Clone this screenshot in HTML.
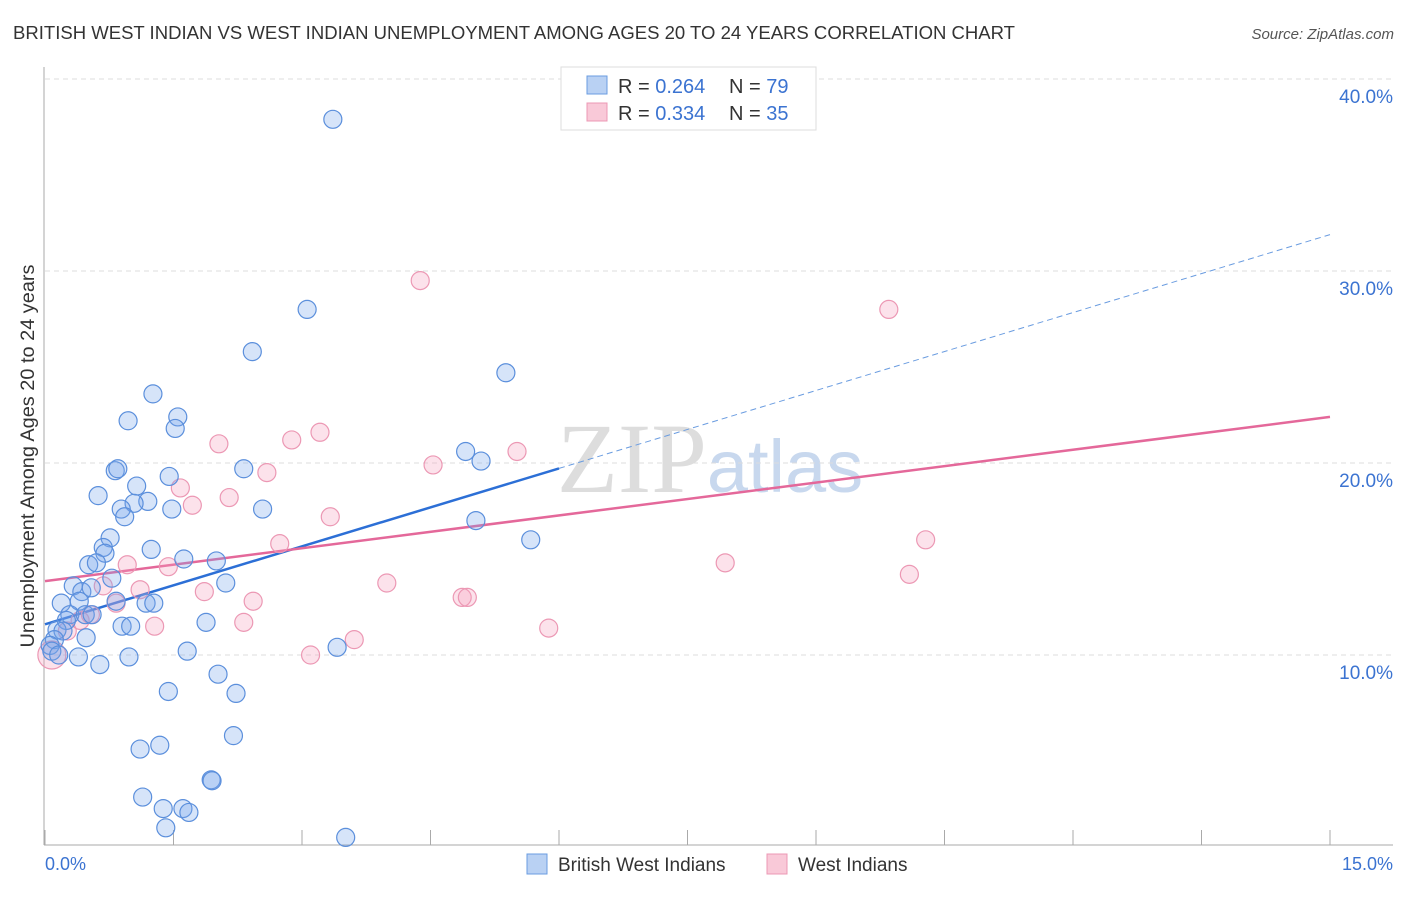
<!DOCTYPE html>
<html><head><meta charset="utf-8"><style>
body{margin:0;background:#fff;font-family:"Liberation Sans",sans-serif}
</style></head><body>
<svg width="1406" height="892" xmlns="http://www.w3.org/2000/svg" font-family="Liberation Sans, sans-serif">
<text x="13" y="39" font-size="18" fill="#333" textLength="1002" lengthAdjust="spacingAndGlyphs">BRITISH WEST INDIAN VS WEST INDIAN UNEMPLOYMENT AMONG AGES 20 TO 24 YEARS CORRELATION CHART</text>
<text x="1394" y="39" font-size="15" fill="#555" font-style="italic" text-anchor="end">Source: ZipAtlas.com</text>
<text x="710" y="492" font-size="100" fill="#ddd" text-anchor="middle" font-family="Liberation Serif, serif">ZIP<tspan fill="#c8d8ee" font-family="Liberation Sans, sans-serif" font-size="74">atlas</tspan></text>
<g id="grid"></g>
<g id="axes"></g>
<g id="trend"></g>
<g id="pts"></g>
<text transform="translate(34,456) rotate(-90)" font-size="19" fill="#333" text-anchor="middle" textLength="383" lengthAdjust="spacingAndGlyphs">Unemployment Among Ages 20 to 24 years</text>
<text x="45" y="870" font-size="18" fill="#3b73d1">0.0%</text>
<text x="1393" y="870" font-size="18" fill="#3b73d1" text-anchor="end">15.0%</text>
<g>
<rect x="561" y="67" width="255" height="63" fill="#fff" stroke="#ddd"/>
<rect x="587" y="76" width="20" height="18" fill="#b9d1f3" stroke="#6a9ce0"/>
<rect x="587" y="103" width="20" height="18" fill="#f9c9d8" stroke="#ec98b4"/>
<text x="618" y="93" font-size="20" fill="#333">R = <tspan fill="#3b73d1">0.264</tspan></text>
<text x="729" y="93" font-size="20" fill="#333">N = <tspan fill="#3b73d1">79</tspan></text>
<text x="618" y="120" font-size="20" fill="#333">R = <tspan fill="#3b73d1">0.334</tspan></text>
<text x="729" y="120" font-size="20" fill="#333">N = <tspan fill="#3b73d1">35</tspan></text>
</g>
<g>
<rect x="527" y="854" width="20" height="20" fill="#b9d1f3" stroke="#6a9ce0"/>
<text x="558" y="871" font-size="19" fill="#333">British West Indians</text>
<rect x="767" y="854" width="20" height="20" fill="#f9c9d8" stroke="#ec98b4"/>
<text x="798" y="871" font-size="19" fill="#333">West Indians</text>
</g>
</svg>
<script>
const yTicks=[10,20,30,40];
const xTicks=[0,1.5,3,4.5,6,7.5,9,10.5,12,13.5,15];
const blueX=[3.36,3.06,2.42,5.38,1.26,1.55,0.97,1.52,4.91,5.09,0.82,0.85,2.32,1.45,1.07,0.62,1.20,1.04,1.48,0.89,2.54,0.93,5.03,5.67,0.76,0.68,1.24,0.70,1.62,2.00,0.51,0.60,0.78,0.33,2.11,0.43,0.54,0.19,0.40,0.83,1.18,1.27,0.29,0.47,0.55,0.25,1.88,0.90,1.00,0.14,0.21,0.11,0.48,3.41,0.06,0.08,1.66,0.16,0.39,0.98,0.64,2.02,1.44,2.23,2.20,1.34,1.11,1.94,1.95,1.14,1.61,1.38,1.68,1.41,3.51];
const blueY=[37.9,28.0,25.8,24.7,23.6,22.4,22.2,21.8,20.6,20.1,19.6,19.7,19.7,19.3,18.8,18.3,18.0,17.9,17.6,17.6,17.6,17.2,17.0,16.0,16.1,15.6,15.5,15.3,15.0,14.9,14.7,14.8,14.0,13.6,13.75,13.3,13.5,12.7,12.8,12.8,12.7,12.7,12.1,12.1,12.1,11.8,11.7,11.5,11.5,11.3,11.25,10.8,10.9,10.4,10.5,10.2,10.2,10.0,9.9,9.9,9.5,9.0,8.1,8.0,5.8,5.3,5.1,3.5,3.45,2.6,2.0,2.0,1.8,1.0,0.5];
const pinkX=[4.38,9.85,2.88,3.21,2.03,5.51,4.53,2.59,1.58,2.15,1.72,3.33,10.28,2.74,7.94,0.96,1.44,10.09,3.99,0.68,1.11,1.86,4.87,4.93,2.43,0.83,0.53,2.32,1.28,5.88,0.26,3.61,3.10,0.41,0.08];
const pinkY=[29.5,28.0,21.2,21.6,21.0,20.6,19.9,19.5,18.7,18.2,17.8,17.2,16.0,15.8,14.8,14.7,14.6,14.2,13.75,13.6,13.4,13.3,13.0,13.0,12.8,12.7,12.1,11.7,11.5,11.4,11.25,10.8,10.0,11.8,10.0];
const blueTrend=[11.6,1.353];  // intercept, slope
const pinkTrend=[13.85,0.57];
const blueSolidEnd=6;

const NS="http://www.w3.org/2000/svg";
const X=v=>45+v*(1330-45)/15;
const Y=v=>847-v*19.2;
function mk(tag,attrs,parent){const e=document.createElementNS(NS,tag);for(const k in attrs)e.setAttribute(k,attrs[k]);document.getElementById(parent).appendChild(e);return e;}
yTicks.forEach(t=>{
 const l=mk('line',{x1:45,x2:1393,y1:Y(t),y2:Y(t),stroke:'#ddd','stroke-dasharray':'5,4'},'grid');
 
 
 const tx=mk('text',{x:1393,y:Y(t)+24,'font-size':19,fill:'#3b73d1','text-anchor':'end'},'grid');
 tx.textContent=t.toFixed(1)+'%';
 
 
});
mk('line',{x1:44,x2:44,y1:67,y2:845,stroke:'#aaa'},'axes');
mk('line',{x1:44,x2:1393,y1:845,y2:845,stroke:'#aaa'},'axes');
xTicks.forEach(t=>{
 const l=mk('line',{x1:X(t),x2:X(t),y1:830,y2:845,stroke:'#aaa'},'axes');
 
 
});
let b1=mk('line',{x1:X(0),y1:Y(blueTrend[0]),x2:X(blueSolidEnd),y2:Y(blueTrend[0]+blueTrend[1]*blueSolidEnd),stroke:'#2c6fd6','stroke-width':2.5},'trend');


let b2=mk('line',{x1:X(blueSolidEnd),y1:Y(blueTrend[0]+blueTrend[1]*blueSolidEnd),x2:X(15),y2:Y(blueTrend[0]+blueTrend[1]*15),stroke:'#6a9ce0','stroke-width':1,'stroke-dasharray':'6,4'},'trend');


let p1=mk('line',{x1:X(0),y1:Y(pinkTrend[0]),x2:X(15),y2:Y(pinkTrend[0]+pinkTrend[1]*15),stroke:'#e4689a','stroke-width':2.5},'trend');


pinkX.forEach((x,i)=>{
 const c=mk('circle',{cx:X(x),cy:Y(pinkY[i]),r:i===pinkX.length-1?14:9,fill:'rgba(244,160,190,0.3)',stroke:'#ec98b4','stroke-width':1.2},'pts');
 
 
});
blueX.forEach((x,i)=>{
 const c=mk('circle',{cx:X(x),cy:Y(blueY[i]),r:9,fill:'rgba(120,165,235,0.3)',stroke:'#5b8fdc','stroke-width':1.2},'pts');
 
 
});
</script>
</body></html>
